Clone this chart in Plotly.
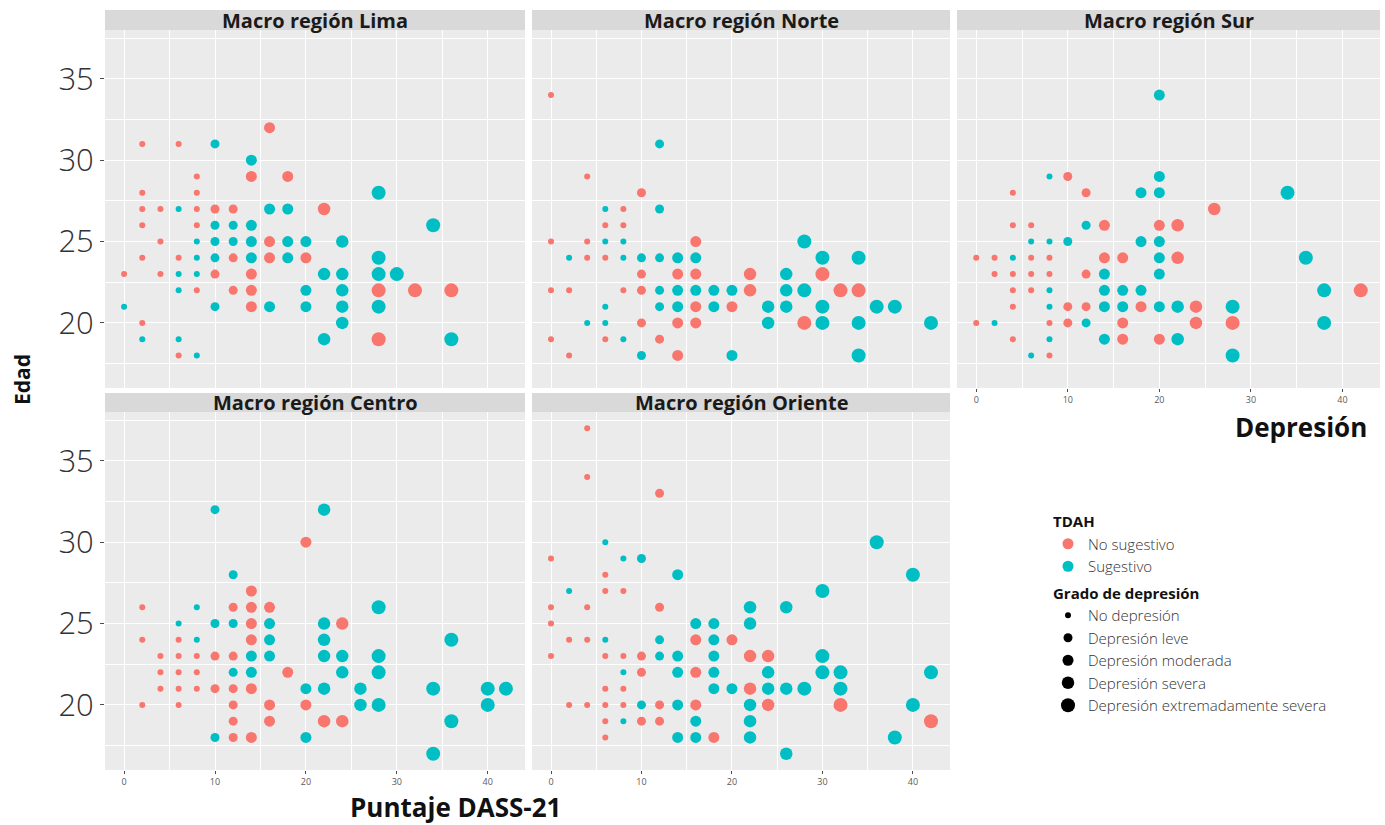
import plotly.graph_objects as go

W, H = 1385, 825

# DASS-21 depression score by age, per macro region and TDAH screening result.
# Each *_ages entry pairs with the list of scores at that age.
lima_no_ages = [32, 31, 29, 28, 27, 26, 25, 24, 23, 22, 21, 20, 19, 18]
lima_no_scores = [[16], [2, 6], [8, 14, 18], [2, 8], [2, 4, 8, 10, 12, 22], [2, 8],
                  [4, 16], [2, 6, 12, 16, 20], [0, 4, 10, 14], [8, 12, 14, 28, 32, 36],
                  [14], [2], [28], [6]]
lima_si_ages = [31, 30, 28, 27, 26, 25, 24, 23, 22, 21, 20, 19, 18]
lima_si_scores = [[10], [14], [28], [6, 16, 18], [10, 12, 14, 34], [8, 10, 12, 14, 18, 20, 24],
                  [8, 10, 14, 18, 28], [6, 8, 22, 24, 28, 30], [6, 20, 24],
                  [0, 10, 16, 20, 24, 28], [24], [2, 6, 22, 36], [8]]

norte_no_ages = [34, 29, 28, 27, 26, 25, 24, 23, 22, 21, 20, 19, 18]
norte_no_scores = [[0], [4], [10], [8], [6, 8], [0, 4, 16], [4, 6], [10, 14, 16, 22, 30],
                   [0, 2, 8, 10, 22, 32, 34], [16, 20], [10, 14, 16, 28], [0, 6, 12], [2, 14]]
norte_si_ages = [31, 27, 25, 24, 23, 22, 21, 20, 19, 18]
norte_si_scores = [[12], [6, 12], [6, 8, 28], [2, 8, 10, 12, 14, 16, 30, 34], [26],
                   [12, 14, 16, 18, 20, 26, 28], [6, 12, 14, 18, 24, 26, 30, 36, 38],
                   [4, 6, 24, 30, 34, 42], [8], [10, 20, 34]]

sur_no_ages = [29, 28, 27, 26, 24, 23, 22, 21, 20, 19, 18]
sur_no_scores = [[10], [4, 12], [26], [4, 6, 14, 20, 22], [0, 2, 6, 8, 14, 16, 22],
                 [2, 4, 6, 8, 12], [4, 6, 42], [4, 10, 12, 18, 24], [0, 8, 10, 16, 24, 28],
                 [4, 16, 20], [8]]
sur_si_ages = [34, 29, 28, 26, 25, 24, 23, 22, 21, 20, 19, 18]
sur_si_scores = [[20], [8, 20], [18, 20, 34], [12], [6, 8, 10, 18, 20], [4, 20, 36], [14, 20],
                 [8, 14, 16, 18, 38], [8, 14, 16, 20, 22, 28], [2, 12, 38], [8, 14, 22], [6, 28]]

centro_no_ages = [30, 27, 26, 25, 24, 23, 22, 21, 20, 19, 18]
centro_no_scores = [[20], [14], [2, 12, 14, 16], [14, 24], [2, 6, 14], [4, 6, 8, 10, 12],
                    [4, 6, 8, 18], [4, 6, 8, 10, 12, 14], [2, 6, 12, 16, 20], [12, 16, 22, 24],
                    [12, 14]]
centro_si_ages = [32, 28, 26, 25, 24, 23, 22, 21, 20, 19, 18, 17]
centro_si_scores = [[10, 22], [12], [8, 28], [6, 10, 12, 16, 22], [8, 16, 22, 36],
                    [14, 16, 22, 24, 28], [12, 14, 24, 28], [20, 22, 26, 34, 40, 42],
                    [26, 28, 40], [36], [10, 20], [34]]

oriente_no_ages = [37, 34, 33, 29, 28, 27, 26, 25, 24, 23, 22, 21, 20, 19, 18]
oriente_no_scores = [[4], [4], [12], [0], [6], [6, 8], [0, 4, 12], [0], [2, 4, 16, 20],
                     [0, 6, 8, 10, 22, 24], [10, 16], [6, 8, 22], [2, 4, 6, 8, 12, 16, 24, 32],
                     [6, 10, 12, 42], [6, 18]]
oriente_si_ages = [30, 29, 28, 27, 26, 25, 24, 23, 22, 21, 20, 19, 18, 17]
oriente_si_scores = [[6, 36], [8, 10], [14, 40], [2, 30], [22, 26], [16, 18, 22], [6, 12, 18],
                     [12, 14, 18, 30], [8, 14, 18, 24, 30, 32, 42], [18, 20, 24, 26, 28, 32],
                     [10, 14, 22, 40], [8, 16, 22], [14, 16, 22, 38], [26]]

region_names = ["Macro región Lima", "Macro región Norte", "Macro región Sur",
                "Macro región Centro", "Macro región Oriente"]
tdah_labels = ["No sugestivo", "Sugestivo"]
grado_labels = ["No depresión", "Depresión leve", "Depresión moderada",
                "Depresión severa", "Depresión extremadamente severa"]
x_ticks = [0, 10, 20, 30, 40]
y_ticks = [20, 25, 30, 35]

region_data = [
    ((lima_no_ages, lima_no_scores), (lima_si_ages, lima_si_scores)),
    ((norte_no_ages, norte_no_scores), (norte_si_ages, norte_si_scores)),
    ((sur_no_ages, sur_no_scores), (sur_si_ages, sur_si_scores)),
    ((centro_no_ages, centro_no_scores), (centro_si_ages, centro_si_scores)),
    ((oriente_no_ages, oriente_no_scores), (oriente_si_ages, oriente_si_scores)),
]

COLORS = ["#F8766D", "#00BFC4"]
GRADO_SIZES = [6, 9, 11, 12.5, 14]
FONT = "Open Sans"


def grado(score):
    # DASS-21 depression cut-offs (doubled scores)
    if score <= 9:
        return 0
    if score <= 13:
        return 1
    if score <= 20:
        return 2
    if score <= 27:
        return 3
    return 4


def expand(ages, scores):
    xs, ys = [], []
    for age, row in zip(ages, scores):
        for s in row:
            xs.append(s)
            ys.append(age)
    return xs, ys


# panel boxes in pixels: left, right, top, bottom, strip top
panels = [
    (105, 525, 30, 388, 10),
    (532, 950, 30, 388, 10),
    (957, 1380, 30, 388, 10),
    (105, 525, 412, 770, 393),
    (532, 950, 412, 770, 393),
]
show_x = [False, False, True, True, True]
show_y = [True, False, False, True, False]

fig = go.Figure()
layout = {}
shapes = []
annotations = []

for i, (box, groups) in enumerate(zip(panels, region_data)):
    n = i + 1
    xa = "x" if n == 1 else f"x{n}"
    ya = "y" if n == 1 else f"y{n}"
    for g, (ages, scores) in enumerate(groups):
        xs, ys = expand(ages, scores)
        fig.add_trace(go.Scatter(
            x=xs, y=ys, mode="markers", xaxis=xa, yaxis=ya,
            marker=dict(color=COLORS[g], size=[GRADO_SIZES[grado(s)] for s in xs],
                        line=dict(width=0), opacity=1),
            showlegend=False, hoverinfo="x+y",
        ))
    left, right, top, bottom, stop = box
    layout[f"xaxis{n}" if n > 1 else "xaxis"] = dict(
        domain=[left / W, right / W], anchor=ya, range=[-2.1, 44.1],
        tickmode="array", tickvals=x_ticks, ticktext=[str(v) for v in x_ticks],
        showticklabels=show_x[i], ticks="outside" if show_x[i] else "",
        ticklen=3, tickcolor="#4D4D4D", tickwidth=1,
        tickfont=dict(family=FONT, size=9, color="#5A5A5A"),
        showgrid=True, gridcolor="white", gridwidth=1.2, zeroline=False,
        minor=dict(tickmode="array", tickvals=[5, 15, 25, 35], showgrid=True,
                   gridcolor="white", gridwidth=0.6),
        showline=False, fixedrange=True,
    )
    layout[f"yaxis{n}" if n > 1 else "yaxis"] = dict(
        domain=[1 - bottom / H, 1 - top / H], anchor=xa, range=[16, 38],
        tickmode="array", tickvals=y_ticks, ticktext=[str(v) for v in y_ticks],
        showticklabels=show_y[i], ticks="outside" if show_y[i] else "",
        ticklen=4, tickcolor="#4D4D4D", tickwidth=1,
        tickfont=dict(family=FONT, size=31, color="#333333", weight=300),
        showgrid=True, gridcolor="white", gridwidth=1.2, zeroline=False,
        minor=dict(tickmode="array", tickvals=[17.5, 22.5, 27.5, 32.5, 37.5], showgrid=True,
                   gridcolor="white", gridwidth=0.6),
        showline=False, fixedrange=True,
    )
    # facet strip
    shapes.append(dict(type="rect", xref="paper", yref="paper",
                       x0=left / W, x1=right / W, y0=1 - top / H, y1=1 - stop / H,
                       fillcolor="#D9D9D9", line=dict(width=0), layer="below"))
    annotations.append(dict(text=region_names[i], xref="paper", yref="paper",
                            x=(left + right) / 2 / W, y=1 - (top + stop) / 2 / H,
                            xanchor="center", yanchor="middle", showarrow=False,
                            font=dict(family=FONT, size=20, color="#1A1A1A", weight="bold")))

# legend entries
for g, label in enumerate(tdah_labels):
    fig.add_trace(go.Scatter(
        x=[None], y=[None], mode="markers", name=label,
        marker=dict(color=COLORS[g], size=11),
        legendgroup="tdah", showlegend=True,
        legendgrouptitle=dict(text="TDAH", font=dict(family=FONT, size=15, color="#111111", weight="bold")),
    ))
for k, label in enumerate(grado_labels):
    fig.add_trace(go.Scatter(
        x=[None], y=[None], mode="markers", name=label,
        marker=dict(color="black", size=GRADO_SIZES[k]),
        legendgroup="grado", showlegend=True,
        legendgrouptitle=dict(text="Grado de depresión",
                              font=dict(family=FONT, size=15, color="#111111", weight="bold")),
    ))

# axis titles
annotations.append(dict(text="Edad", xref="paper", yref="paper", x=22 / W, y=1 - 380 / H,
                        textangle=-90, showarrow=False, xanchor="center", yanchor="middle",
                        font=dict(family=FONT, size=21, color="#111111", weight="bold")))
annotations.append(dict(text="Puntaje DASS-21", xref="paper", yref="paper", x=455 / W, y=1 - 807 / H,
                        showarrow=False, xanchor="center", yanchor="middle",
                        font=dict(family=FONT, size=26, color="#111111", weight="bold")))
annotations.append(dict(text="Depresión", xref="paper", yref="paper", x=1369 / W, y=1 - 427 / H,
                        showarrow=False, xanchor="right", yanchor="middle",
                        font=dict(family=FONT, size=26, color="#111111", weight="bold")))

fig.update_layout(
    width=W, height=H, margin=dict(l=0, r=0, t=0, b=0),
    paper_bgcolor="white", plot_bgcolor="#EBEBEB",
    shapes=shapes, annotations=annotations,
    legend=dict(x=1048 / W, y=1 - 505 / H, xanchor="left", yanchor="top",
                font=dict(family=FONT, size=15, color="#333333", weight=300),
                tracegroupgap=4, itemsizing="trace", bgcolor="rgba(0,0,0,0)"),
    hovermode="closest",
    **layout,
)

fig.write_html("out.html")
